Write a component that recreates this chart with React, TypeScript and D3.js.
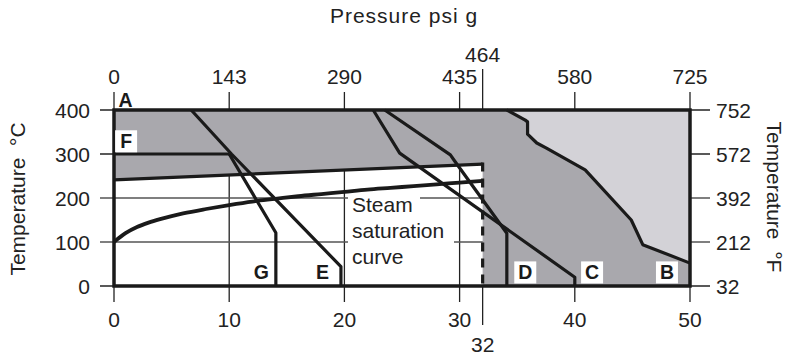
import React from "react";
import * as d3 from "d3";

const barTicks = [0, 10, 20, 30, 40, 50];
const psiLabels = ["0", "143", "290", "435", "580", "725"];
const tempTicks = [0, 100, 200, 300, 400];
const fahrLabels = ["32", "212", "392", "572", "752"];
const markBar = 32;
const markPsi = "464";

type P = [number, number];
const curveB: P[] = [[34.1, 400], [35.7, 377], [35.9, 373], [35.9, 345], [36.7, 325], [37.5, 314], [40.9, 264], [44.9, 150], [45.9, 94], [50, 52]];
const curveC: P[] = [[22.5, 400], [24.8, 302], [40, 20], [40, 0]];
const curveD: P[] = [[23.5, 400], [29.2, 298], [29.6, 283], [34.1, 120], [34.1, 0]];
const curveE: P[] = [[6.7, 400], [10.2, 300], [19.7, 44], [19.7, 0]];
const curveG: P[] = [[10, 300], [14.05, 121], [14.05, 0]];
const curveF: P[] = [[0, 300], [10, 300]];
const superheatTop: P[] = [[0, 241], [32, 277]];
const steamBar = [0, 1, 2, 3, 4, 5, 6, 8, 10, 12, 14, 16, 18, 20, 22, 24, 26, 28, 30, 32];
const steamTemp = [100, 120, 134, 144, 152, 159, 165, 175, 184, 192, 198, 204, 209, 214, 219, 223, 227, 231, 235, 239];
const steamLabel = ["Steam", "saturation", "curve"];

const letterLabels = [
  { t: "A", x: 1, T: 400, box: false },
  { t: "F", x: 1.05, T: 313, box: true },
  { t: "G", x: 12.8, T: 15, box: false },
  { t: "E", x: 18.1, T: 15, box: false },
  { t: "D", x: 35.7, T: 15, box: true },
  { t: "C", x: 41.5, T: 15, box: true },
  { t: "B", x: 48.0, T: 15, box: true },
];

export default function App() {
  const x = d3.scaleLinear().domain([0, 50]).range([114, 690]);
  const y = d3.scaleLinear().domain([0, 400]).range([286, 110]);
  const line = d3.line<P>().x((d) => x(d[0])).y((d) => y(d[1]));
  const steamPts: P[] = steamBar.map((b, i) => [b, steamTemp[i]]);
  const steamPath = d3.line<P>().x((d) => x(d[0])).y((d) => y(d[1])).curve(d3.curveMonotoneX)(steamPts) || "";

  const light: P[] = [...curveB, [50, 400]];
  const dark: P[] = [[0, 400], ...curveB, [50, 0], [32, 0], [32, 277], [0, 241]];
  const font = "'Liberation Sans', Arial, Helvetica, sans-serif";
  const lw = 3.2;

  return (
    <svg width={794} height={356} style={{ display: "block", position: "absolute", left: 0, top: 0 }} fontFamily={font}>
      <rect width={794} height={356} fill="#fff" />
      {barTicks.map((b) => (
        <line key={"v" + b} x1={x(b)} x2={x(b)} y1={92} y2={302} stroke="#222" strokeWidth={1.3} />
      ))}
      <line x1={x(markBar)} x2={x(markBar)} y1={69} y2={110} stroke="#222" strokeWidth={1.3} />
      <line x1={x(markBar)} x2={x(markBar)} y1={286} y2={325} stroke="#222" strokeWidth={1.3} />
      {tempTicks.map((t) => (
        <line key={"h" + t} x1={100} x2={710} y1={y(t)} y2={y(t)} stroke={t === 100 || t === 200 ? "#555" : "#222"} strokeWidth={1.4} />
      ))}
      <path d={line(light) + "Z"} fill="#d3d2d7" />
      <path d={line(dark) + "Z"} fill="#a9a8ad" />
      {steamLabel.map((s, i) => {
        const w = [72, 106, 62][i];
        return <rect key={"sb" + s} x={348} y={195 + i * 26} width={w} height={24} fill="#fff" />;
      })}
      {steamLabel.map((s, i) => (
        <text key={"st" + s} x={352} y={212 + i * 26} fontSize={21} fill="#222">{s}</text>
      ))}
      <path d={steamPath} fill="none" stroke="#1a1a1a" strokeWidth={3.8} />
      {[curveB, curveC, curveD, curveE, curveG, curveF, superheatTop].map((c, i) => (
        <path key={"c" + i} d={line(c) || ""} fill="none" stroke="#1a1a1a" strokeWidth={lw} strokeLinejoin="round" />
      ))}
      <line x1={x(32)} x2={x(32)} y1={y(277) - 1.5} y2={y(0)} stroke="#1a1a1a" strokeWidth={lw} strokeDasharray="9,7" />
      <rect x={x(0)} y={y(400)} width={x(50) - x(0)} height={y(0) - y(400)} fill="none" stroke="#1a1a1a" strokeWidth={3.5} />
      {letterLabels.map((l) => {
        const cx = x(l.x);
        const cy = y(l.T);
        return (
          <g key={l.t}>
            {l.box && <rect x={cx - 11} y={cy - 18} width={22} height={22} fill="#fff" />}
            <text x={cx} y={l.t === "A" ? 106.5 : cy} textAnchor="middle" fontSize={19.5} fontWeight="bold" fill="#1a1a1a">{l.t}</text>
          </g>
        );
      })}
      {barTicks.map((b, i) => (
        <text key={"tp" + b} x={x(b)} y={84} textAnchor="middle" fontSize={21} fill="#222">{psiLabels[i]}</text>
      ))}
      <text x={x(markBar)} y={61.5} textAnchor="middle" fontSize={21} fill="#222">{markPsi}</text>
      {barTicks.map((b) => (
        <text key={"bt" + b} x={x(b)} y={327} textAnchor="middle" fontSize={21} fill="#222">{b}</text>
      ))}
      <text x={x(markBar)} y={352} textAnchor="middle" fontSize={21} fill="#222">{markBar}</text>
      {tempTicks.map((t) => (
        <text key={"lt" + t} x={90} y={y(t) + 7.5} textAnchor="end" fontSize={21} fill="#222">{t}</text>
      ))}
      {tempTicks.map((t, i) => (
        <text key={"rt" + t} x={716} y={y(t) + 7.5} textAnchor="start" fontSize={21} fill="#222">{fahrLabels[i]}</text>
      ))}
      <text x={404} y={23} textAnchor="middle" fontSize={21} letterSpacing={1} fill="#222">Pressure psi g</text>
      <text transform="translate(25,199) rotate(-90)" textAnchor="middle" fontSize={21} fill="#222" style={{ whiteSpace: "pre" }}>{"Temperature  °C"}</text>
      <text transform="translate(767,197) rotate(90)" textAnchor="middle" fontSize={21} fill="#222" style={{ whiteSpace: "pre" }}>{"Temperature  °F"}</text>
    </svg>
  );
}
